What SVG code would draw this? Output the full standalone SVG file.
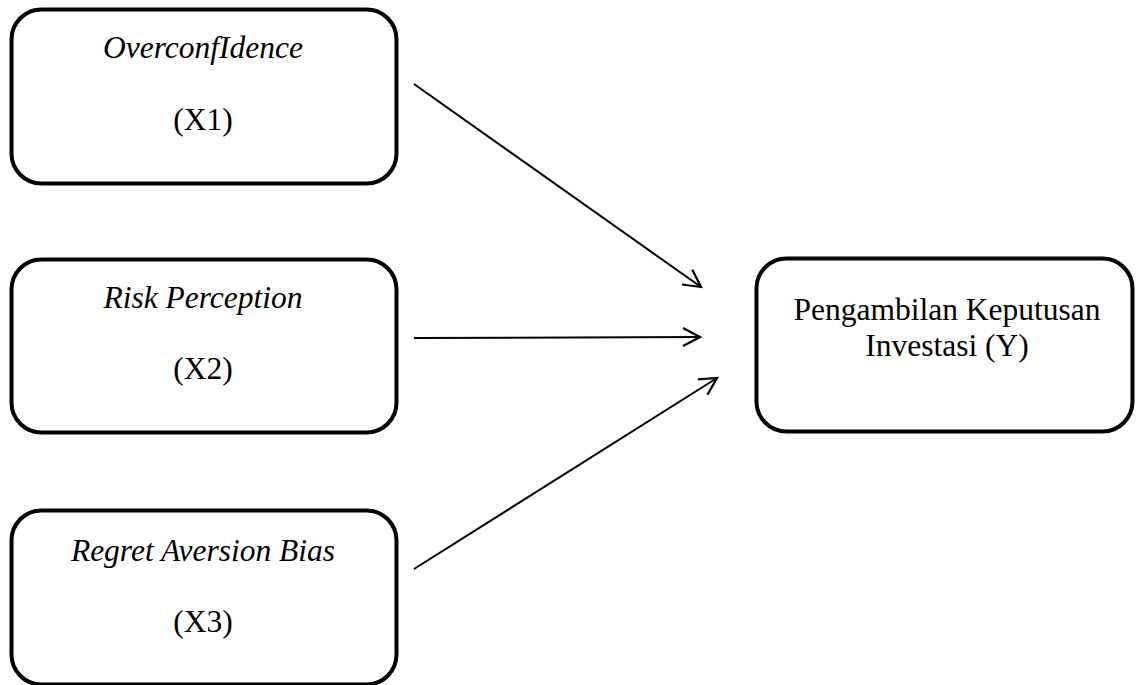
<svg xmlns="http://www.w3.org/2000/svg" width="1136" height="685" viewBox="0 0 1136 685">
<style>
.box{fill:#fff;stroke:#000;stroke-width:4}
.t{font-family:"Liberation Serif","Times New Roman",serif;font-size:31.5px;fill:#000;text-anchor:middle}
.i{font-style:italic}
.c{stroke:#000;stroke-width:2;fill:none}
</style>
<defs>
<marker id="ah" markerUnits="userSpaceOnUse" markerWidth="24" markerHeight="24" refX="20" refY="12" orient="auto" viewBox="0 0 24 24">
<path d="M3,3 L20,12 L3,21" fill="none" stroke="#000" stroke-width="2.2"/>
</marker>
</defs>
<rect width="1136" height="685" fill="#fff"/>
<g id="x1">
<rect class="box" x="11.5" y="9.5" width="385" height="174" rx="30"/>
<text class="t i" x="203" y="58">OverconfIdence</text>
<text class="t" x="203" y="130">(X1)</text>
</g>
<g id="x2">
<rect class="box" x="11.5" y="259.5" width="385" height="173" rx="30"/>
<text class="t i" x="203" y="308">Risk Perception</text>
<text class="t" x="203" y="379">(X2)</text>
</g>
<g id="x3">
<rect class="box" x="11.5" y="510.5" width="385" height="174" rx="30"/>
<text class="t i" x="203" y="561">Regret Aversion Bias</text>
<text class="t" x="203" y="632">(X3)</text>
</g>
<g id="y">
<rect class="box" x="756.5" y="258.5" width="376" height="173" rx="30"/>
<text class="t" x="947" y="320">Pengambilan Keputusan</text>
<text class="t" x="947" y="356">Investasi (Y)</text>
</g>
<g id="connectors">
<line class="c" x1="414" y1="84" x2="701" y2="287" marker-end="url(#ah)"/>
<line class="c" x1="414" y1="338" x2="700" y2="337" marker-end="url(#ah)"/>
<line class="c" x1="414" y1="569" x2="717" y2="378" marker-end="url(#ah)"/>
</g>
</svg>
